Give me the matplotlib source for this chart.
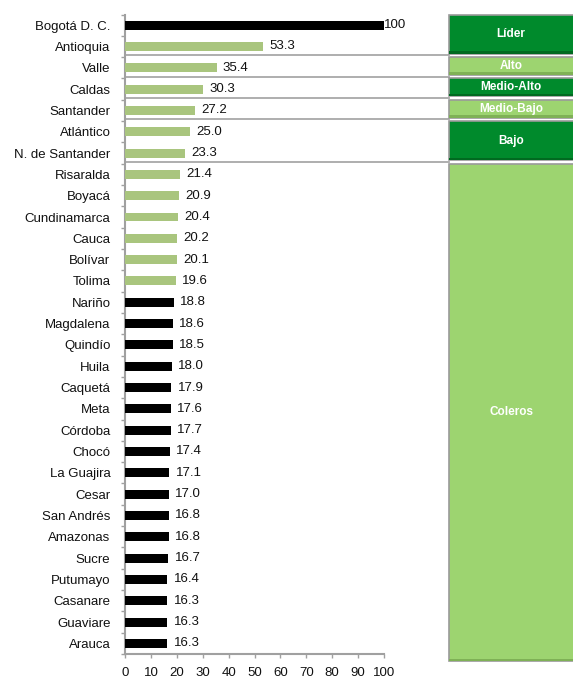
import matplotlib
matplotlib.use("Agg")
import matplotlib.pyplot as plt
from matplotlib.patches import Rectangle
import matplotlib.transforms as mtransforms

plt.rcParams['font.family'] = ['Liberation Sans', 'DejaVu Sans']

departments = ["Bogotá D. C.", "Antioquia", "Valle", "Caldas", "Santander", "Atlántico",
               "N. de Santander", "Risaralda", "Boyacá", "Cundinamarca", "Cauca", "Bolívar",
               "Tolima", "Nariño", "Magdalena", "Quindío", "Huila", "Caquetá", "Meta",
               "Córdoba", "Chocó", "La Guajira", "Cesar", "San Andrés", "Amazonas", "Sucre",
               "Putumayo", "Casanare", "Guaviare", "Arauca"]
values = [100, 53.3, 35.4, 30.3, 27.2, 25.0, 23.3, 21.4, 20.9, 20.4, 20.2, 20.1, 19.6,
          18.8, 18.6, 18.5, 18.0, 17.9, 17.6, 17.7, 17.4, 17.1, 17.0, 16.8, 16.8, 16.7,
          16.4, 16.3, 16.3, 16.3]
value_labels = ["100", "53.3", "35.4", "30.3", "27.2", "25.0", "23.3", "21.4", "20.9", "20.4",
                "20.2", "20.1", "19.6", "18.8", "18.6", "18.5", "18.0", "17.9", "17.6", "17.7",
                "17.4", "17.1", "17.0", "16.8", "16.8", "16.7", "16.4", "16.3", "16.3", "16.3"]
# bar colour group: 'k' = black, 'g' = light green
bar_group = ["k"] + ["g"] * 12 + ["k"] * 17

groups = ["Líder", "Alto", "Medio-Alto", "Medio-Bajo", "Bajo", "Coleros"]
group_first = [0, 2, 3, 4, 5, 7]
group_last = [1, 2, 3, 4, 6, 29]
group_shade = ["dark", "light", "dark", "light", "dark", "light"]

xticks = [0, 10, 20, 30, 40, 50, 60, 70, 80, 90, 100]

W, H = 573, 681
fig = plt.figure(figsize=(W / 100, H / 100), dpi=100)
ax_left, ax_right, ax_top, ax_bot = 125, 384, 14.5, 654
ax = fig.add_axes([ax_left / W, 1 - ax_bot / H, (ax_right - ax_left) / W, (ax_bot - ax_top) / H])

n = len(departments)
colors = {"k": "#000000", "g": "#a9c57e"}
ypos = list(range(n))
ax.barh(ypos, values, height=0.42, color=[colors[g] for g in bar_group], zorder=3)

for i, (v, lab) in enumerate(zip(values, value_labels)):
    off = 0 if v >= 100 else 4.5
    ax.annotate(lab, xy=(v, i), xytext=(off, 0), textcoords="offset points",
                ha="left", va="center", fontsize=9.5, color="#111111", zorder=4)

ax.set_xlim(0, 100)
ax.set_ylim(n - 0.5, -0.5)
ax.set_xticks(xticks)
ax.set_xticklabels([str(t) for t in xticks], fontsize=9.5, color="#111111")
ax.set_yticks(ypos)
ax.set_yticklabels(departments, fontsize=9.5, color="#111111")
ax.set_yticks([i - 0.5 for i in range(n + 1)], minor=True)
ax.tick_params(axis="y", which="major", length=0, pad=10.5)
ax.tick_params(axis="y", which="minor", length=3, width=1, color="#a0a0a0", direction="out")
ax.tick_params(axis="x", which="major", length=3, width=1, color="#a0a0a0", pad=6.5)
for s in ["top", "right"]:
    ax.spines[s].set_visible(False)
for s in ["left", "bottom"]:
    ax.spines[s].set_color("#a0a0a0")
    ax.spines[s].set_linewidth(1.5)

# blended transform: x in axes coords, y in data coords
trans = mtransforms.blended_transform_factory(ax.transAxes, ax.transData)
box_x0 = (449 - ax_left) / (ax_right - ax_left)
box_x1 = (W + 5 - ax_left) / (ax_right - ax_left)

# separator lines between groups
line_pos = []
for k in range(1, len(groups)):
    yb = group_first[k] - 0.5 - 0.08
    line_pos.append(yb)
    ax.plot([0, box_x0], [yb, yb], transform=trans, color="#a8a8a8", lw=1.3,
            clip_on=False, zorder=2)

dark = "#008a2c"
light = "#9dd470"
for k, name in enumerate(groups):
    top = -0.5 if k == 0 else line_pos[k - 1] + 0.07
    bot = line_pos[k] - 0.08 if k < len(groups) - 1 else n - 0.5 + 0.35
    fc = dark if group_shade[k] == "dark" else light
    shade = "#006a20" if group_shade[k] == "dark" else "#7fb156"
    r = Rectangle((box_x0, top), box_x1 - box_x0, bot - top, transform=trans,
                  facecolor=fc, edgecolor="#9a9a9a", lw=1.2, clip_on=False, zorder=2)
    ax.add_patch(r)
    r2 = Rectangle((box_x0, bot - 0.12), box_x1 - box_x0, 0.12, transform=trans,
                   facecolor=shade, edgecolor="none", clip_on=False, zorder=2)
    ax.add_patch(r2)
    ax.text((box_x0 + (W - ax_left) / (ax_right - ax_left)) / 2, (top + bot) / 2, name,
            transform=trans, ha="center", va="center", color="white",
            fontsize=8.5, fontweight="bold", zorder=5, clip_on=False)

fig.savefig("out.png", dpi=100)
